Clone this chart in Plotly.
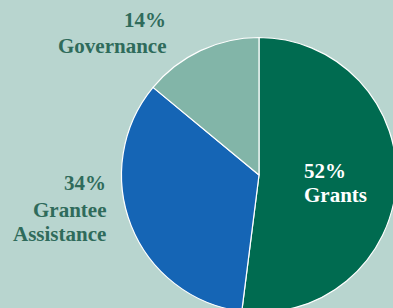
import plotly.graph_objects as go

categories = ["Grants", "Grantee Assistance", "Governance"]
shares = [52, 34, 14]
label_lines = [["Grants"], ["Grantee", "Assistance"], ["Governance"]]
colors = ["#006b50", "#1565b5", "#82b5a8"]

W, H = 397, 313
BG = "#b8d5cf"
TXT = "#2f6b5b"
FONT = "Liberation Serif"

# pie geometry in pixels (center, radius)
cx, cy, r = 259.0, 175.0, 137.5
dom_x = [(cx - r) / W, min(1.0, (cx + r) / W)]
dom_y = [max(0.0, (H - (cy + r)) / H), (H - (cy - r)) / H]

fig = go.Figure(go.Pie(
    labels=categories,
    values=shares,
    sort=False,
    direction="clockwise",
    rotation=0,
    marker=dict(colors=colors, line=dict(color="white", width=1.2)),
    textinfo="none",
    hoverinfo="label+percent",
    showlegend=False,
    domain=dict(x=dom_x, y=dom_y),
))

def px(x):
    return x / W

def py(y):
    return 1 - y / H

# label anchor positions in pixels: (x, y_first_line, anchor, color, offsets)
placements = {
    "Grants": (302, 171, "left", "white", [0, 24]),
    "Grantee Assistance": (108, 183, "right", TXT, [0, 27, 51]),
    "Governance": (168, 20, "right", TXT, [0, 26]),
}

annotations = []
for cat, val, lines in zip(categories, shares, label_lines):
    x, y0, anchor, col, offs = placements[cat]
    texts = [f"{val}%"] + lines
    for t, off in zip(texts, offs):
        annotations.append(dict(
            x=px(x), y=py(y0 + off), xref="paper", yref="paper",
            text=f"<b>{t}</b>", showarrow=False,
            xanchor=anchor, yanchor="middle",
            font=dict(family=FONT, size=21, color=col),
        ))

fig.update_layout(
    width=W, height=H,
    margin=dict(l=0, r=0, t=0, b=0),
    paper_bgcolor=BG, plot_bgcolor=BG,
    annotations=annotations,
)

fig.write_html(
    "out.html",
    config={"displayModeBar": False},
    post_script="document.body.style.margin='0';document.body.style.overflow='hidden';document.documentElement.style.overflow='hidden';",
)
